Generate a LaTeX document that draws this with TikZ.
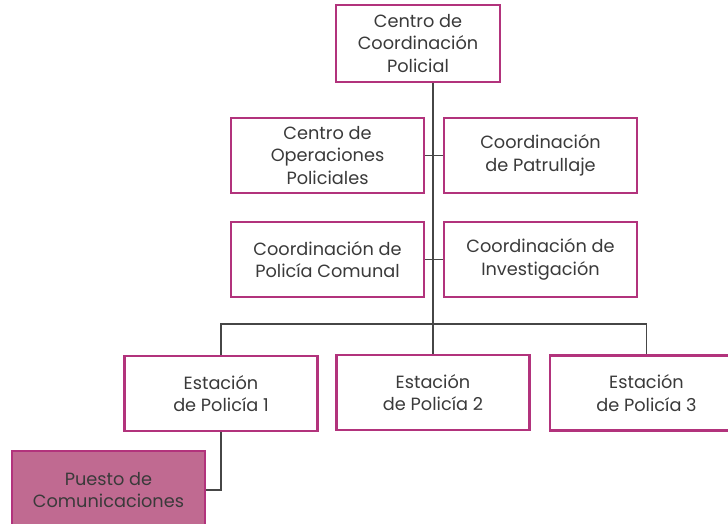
\documentclass[tikz,border=0pt]{standalone}
\usepackage{fontspec}
\setmainfont{Poppins}
\usepackage{tikz}
\usetikzlibrary{positioning,calc}

\definecolor{orgborder}{HTML}{B2337C}
\definecolor{orgfill}{HTML}{C06A91}
\definecolor{orgline}{HTML}{464646}
\definecolor{orgtext}{HTML}{3A3A3A}

\newlength{\unitlen}
\setlength{\unitlen}{0.025cm}
\tikzset{
  unit/.style={draw=orgborder,line width=1.8pt,fill=white,align=center,
    text=orgtext,font=\fontsize{12.6}{16.2}\selectfont,inner sep=0pt,
    minimum width=193\unitlen,minimum height=75\unitlen},
  link/.style={draw=orgline,line width=1.1pt}
}

\begin{document}
\begin{tikzpicture}[x=0.025cm,y=-0.025cm]
  \useasboundingbox (0,0) rectangle (728,524);
  % levels
  \node[unit,minimum width=164\unitlen,minimum height=77\unitlen] (ccp) at (418,43.5) {Centro de\\Coordinación\\Policial};
  \node[unit] (cop) at (327.5,155.5) {Centro de\\Operaciones\\Policiales};
  \node[unit] (patr) at (540.5,155.5) {Coordinación\\de Patrullaje};
  \node[unit] (comu) at (327.5,259.5) {Coordinación de\\Policía Comunal};
  \node[unit] (inve) at (540.5,259.5) {Coordinación de\\Investigación};
  \node[unit] (est1) at (221,393.5) {Estación\\de Policía 1};
  \node[unit] (est2) at (433,392.5) {Estación\\de Policía 2};
  \node[unit] (est3) at (646.5,393) {Estación\\de Policía 3};
  \node[unit,fill=orgfill,minimum height=78\unitlen] (pues) at (108.5,490) {Puesto de\\Comunicaciones};
  \coordinate (bus) at (433,324);

  % connectors
  \draw[link] (ccp.south -| bus) -- (bus);
  \draw[link] (cop.east) -- (patr.west);
  \draw[link] (comu.east) -- (inve.west);
  \draw[link] (est1.north) |- (bus) -| (est3.north);
  \draw[link] (bus) -- (est2.north);
  \draw[link] (est1.south) |- (pues.east);
\end{tikzpicture}
\end{document}
